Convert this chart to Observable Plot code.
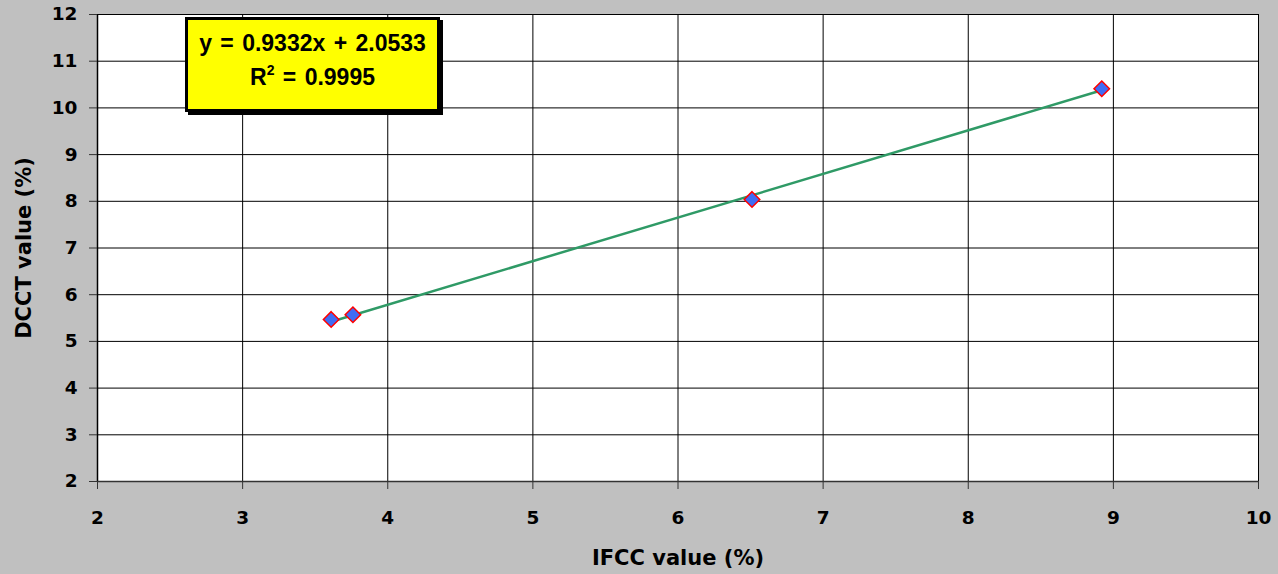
<!DOCTYPE html>
<html>
<head>
<meta charset="utf-8">
<script src="https://cdn.jsdelivr.net/npm/d3@7"></script>
<script src="https://cdn.jsdelivr.net/npm/@observablehq/plot@0.6"></script>
<style>
  html, body { margin: 0; padding: 0; background: #c0c0c0; }
  #wrap { position: relative; width: 1278px; height: 574px; }
  #eq {
    position: absolute; left: 185px; top: 17px; width: 249px; height: 83px;
    background: #ffff00; border: 3px solid #000; box-shadow: 3px 3px 0 #000;
    font-family: "Liberation Sans", Arial, sans-serif; font-weight: bold; font-size: 23px;
    word-spacing: 2px;
    text-align: center; color: #000; line-height: 34px; padding-top: 6px; box-sizing: content-box;
  }
  #eq sup { font-size: 14px; line-height: 0; vertical-align: 10px; }
</style>
</head>
<body>
<div id="wrap"></div>
<script>
// Data
const ifcc = [3.61, 3.76, 6.51, 8.92];
const dcct = [5.47, 5.57, 8.04, 10.41];
const slope = 0.9332;
const intercept = 2.0533;
const rSquared = 0.9995;
const xTicks = [2, 3, 4, 5, 6, 7, 8, 9, 10];
const yTicks = [2, 3, 4, 5, 6, 7, 8, 9, 10, 11, 12];
const xTitle = "IFCC value (%)";
const yTitle = "DCCT value (%)";

const points = ifcc.map((x, i) => ({x, y: dcct[i]}));
const trendX = d3.extent(ifcc);
const trend = trendX.map(x => ({x, y: slope * x + intercept}));

const font = "DejaVu Sans, sans-serif";

const chart = Plot.plot({
  width: 1278,
  height: 574,
  marginLeft: 97,
  marginRight: 20,
  marginTop: 14,
  marginBottom: 93,
  style: {background: "#c0c0c0", color: "#000", fontFamily: font, fontSize: "18px", fontWeight: "bold"},
  x: {domain: [2, 10]},
  y: {domain: [2, 12]},
  marks: [
    Plot.frame({fill: "white", stroke: null}),
    Plot.gridY(yTicks, {stroke: "#000", strokeOpacity: 1, strokeWidth: 1}),
    Plot.gridX(xTicks, {stroke: "#000", strokeOpacity: 1, strokeWidth: 1}),
    Plot.ruleX([2], {stroke: "#000", strokeWidth: 1.5}),
    Plot.ruleY([2], {stroke: "#333", strokeWidth: 1.5}),
    Plot.axisY(yTicks, {tickSize: 8, tickPadding: 12, tickFormat: d => String(d), fontSize: 18.5, fontWeight: "bold", fontFamily: font, label: null, stroke: "#333"}),
    Plot.axisX(xTicks, {tickSize: 8, tickPadding: 21, tickFormat: d => String(d), fontSize: 18.5, fontWeight: "bold", fontFamily: font, label: null, stroke: "#333"}),
    Plot.line(trend, {x: "x", y: "y", stroke: "#2f9a66", strokeWidth: 2.5}),
    Plot.dot(points, {x: "x", y: "y", symbol: "diamond2", r: 7, fill: "#3f6cf5", stroke: "#ff0000", strokeWidth: 1.5}),
    Plot.text([xTitle], {text: d => d, frameAnchor: "bottom", dy: 77, fontSize: 21, fontWeight: "bold", fontFamily: font, lineAnchor: "middle", textAnchor: "middle"}),
    Plot.text([yTitle], {text: d => d, frameAnchor: "left", dx: -73, rotate: -90, fontSize: 21, fontWeight: "bold", fontFamily: font, lineAnchor: "middle", textAnchor: "middle"})
  ]
});

const wrap = document.getElementById("wrap");
wrap.appendChild(chart);
const eq = document.createElement("div");
eq.id = "eq";
eq.innerHTML = `y = ${slope}x + ${intercept}<br>R<sup>2</sup> = ${rSquared}`;
wrap.appendChild(eq);
</script>
</body>
</html>
